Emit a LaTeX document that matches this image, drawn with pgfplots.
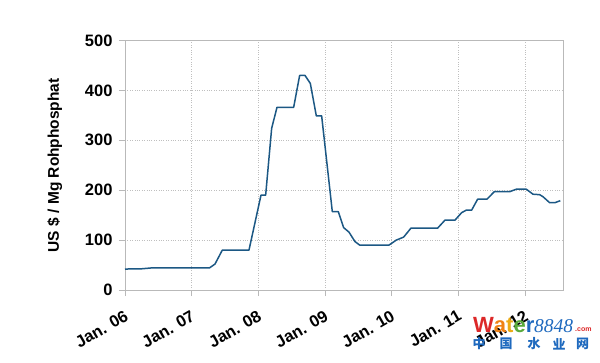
\documentclass[border=0pt]{standalone}
\usepackage{fontspec}
\setmainfont{Liberation Sans}
\newfontfamily\cjk{Noto Sans CJK SC}
\newfontfamily\serifit{Liberation Serif}
\usepackage{pgfplots}
\pgfplotsset{compat=1.18}
\definecolor{lineblue}{RGB}{28,88,132}
\definecolor{wmblue}{RGB}{30,105,190}
\definecolor{wmred}{RGB}{220,40,40}
\definecolor{wmorange}{RGB}{240,130,20}
\definecolor{wmyellow}{RGB}{235,170,20}
\definecolor{wmgreen}{RGB}{90,170,60}
\begin{document}
\begin{tikzpicture}
\useasboundingbox (-125pt,-72pt) rectangle (475pt,290pt);
\begin{axis}[
  at={(0,0)}, anchor=south west, scale only axis,
  width=438.3pt, height=249.5pt,
  xmin=2006, xmax=2012.575, ymin=0, ymax=500,
  xtick={2006,2007,2008,2009,2010,2011,2012},
  xticklabels={Jan. 06,Jan. 07,Jan. 08,Jan. 09,Jan. 10,Jan. 11,Jan. 12},
  ytick={0,100,200,300,400,500},
  grid=major,
  major grid style={dotted, gray!50, line width=0.6pt},
  axis line style={gray!55, line width=0.8pt},
  tick style={gray!55, line width=0.8pt},
  tick align=outside, major tick length=6pt,
  xtick pos=bottom, ytick pos=left,
  /pgf/number format/assume math mode=true,
  tick label style={font=\fontsize{16.5}{19}\selectfont\bfseries},
  yticklabel style={xshift=-3pt},
  xticklabel style={rotate=30, anchor=east, xshift=-4.5pt, yshift=-16.8pt},
  ylabel={US \$ / Mg Rohphosphat},
  ylabel style={font=\fontsize{15.5}{18}\selectfont\bfseries, at={(axis description cs:-0.16,0.5)}, anchor=center},
]
\addplot[color=lineblue, line width=1.5pt, line join=round] coordinates {
(2006.00,42) (2006.25,42.5) (2006.42,44.5) (2007.27,44.5) (2007.35,52)
(2007.46,80) (2007.86,80) (2008.04,190) (2008.11,190) (2008.20,324)
(2008.28,366) (2008.53,366) (2008.62,430) (2008.70,430) (2008.78,414)
(2008.87,349) (2008.95,349) (2009.11,157) (2009.20,157) (2009.28,125)
(2009.36,116) (2009.45,97) (2009.52,90) (2009.96,90) (2010.07,100)
(2010.18,106) (2010.29,124) (2010.69,124) (2010.80,140) (2010.95,140)
(2011.05,155) (2011.12,160) (2011.20,160) (2011.29,182) (2011.43,182)
(2011.54,197) (2011.77,197) (2011.87,202) (2012.02,202) (2012.12,192)
(2012.22,191) (2012.27,187) (2012.37,175) (2012.45,175) (2012.53,179)
};
\end{axis}
% watermark
\node[anchor=west, inner sep=0pt, font=\fontsize{22}{24}\selectfont\bfseries] at (348pt,-35pt)
  {\textcolor{wmred}{W}\textcolor{wmorange}{a}\textcolor{wmyellow}{t}\textcolor{wmgreen}{e}\textcolor{wmblue}{r}};
\node[anchor=west, inner sep=0pt, font=\fontsize{19.5}{22}\serifit\itshape, text=wmblue] at (409pt,-36pt) {8848};
\node[anchor=west, inner sep=0pt, font=\fontsize{7}{8}\selectfont\bfseries, text=wmred] at (450pt,-40pt) {.com};
\foreach \c/\x in {中/354,国/381,水/409,业/434,网/457.5}
  \node[inner sep=0pt, font=\fontsize{13}{14}\cjk\bfseries, text=wmblue] at (\x pt,-54pt) {\c};
\end{tikzpicture}
\end{document}
